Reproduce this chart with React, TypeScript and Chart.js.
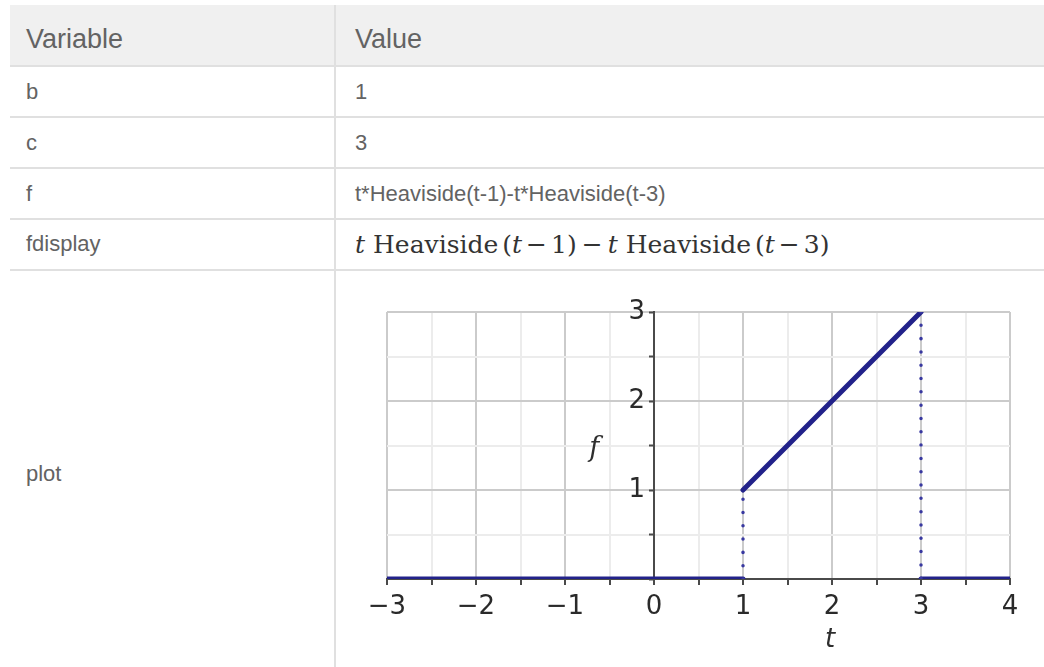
import React, { useEffect, useRef } from 'react';
import { Chart, registerables } from 'chart.js';

Chart.register(...registerables);

// Table contents
const VARIABLES = ['b', 'c', 'f', 'fdisplay', 'plot'];
const VALUES = ['1', '3', 't*Heaviside(t-1)-t*Heaviside(t-3)'];

// Breakpoints of f(t) = t·Heaviside(t−1) − t·Heaviside(t−3) over the plotted range;
// a repeated t marks a jump discontinuity.
const T_POINTS = [-3, 1, 1, 3, 3, 4];
const F_POINTS = [0, 0, 1, 3, 0, 0];

// Axis ranges and tick spacing
const T_RANGE = [-3, 4];
const F_RANGE = [0, 3];
const TICK_STEP = 0.5;

const LINE_COLOR = '#22228a';
const JUMP_COLOR = '#3838a0';
const MAJOR_GRID = '#cbcbcb';
const MINOR_GRID = '#ececec';
const AXIS_COLOR = '#4a4a4a';
const TICK_FONT = { family: '"DejaVu Sans", sans-serif', size: 26 };

const fmt = (v: number) => (v < 0 ? '\u2212' + Math.abs(v) : String(v));
const gridColor = (ctx: any) => (Number.isInteger(ctx.tick.value) ? MAJOR_GRID : MINOR_GRID);

type Pt = { x: number; y: number | null };

// Continuous pieces: break the line wherever t repeats
function pieces(): Pt[] {
  const out: Pt[] = [];
  T_POINTS.forEach((t, i) => {
    if (i > 0 && t === T_POINTS[i - 1]) out.push({ x: t, y: null });
    out.push({ x: t, y: F_POINTS[i] });
  });
  return out;
}

// Vertical connectors at each jump
function jumps(): Pt[] {
  const out: Pt[] = [];
  T_POINTS.forEach((t, i) => {
    if (i > 0 && t === T_POINTS[i - 1]) {
      if (out.length) out.push({ x: t, y: null });
      out.push({ x: t, y: F_POINTS[i - 1] }, { x: t, y: F_POINTS[i] });
    }
  });
  return out;
}

// Italic axis names, placed next to the axes
const axisNames = {
  id: 'axisNames',
  afterDraw(chart: any) {
    const { ctx, scales, chartArea } = chart;
    ctx.save();
    ctx.fillStyle = '#2e2e2e';
    ctx.textAlign = 'center';
    ctx.textBaseline = 'middle';
    ctx.font = 'italic 27px "DejaVu Serif", serif';
    ctx.fillText('f', scales.x.getPixelForValue(-0.67), scales.y.getPixelForValue(1.46));
    ctx.font = 'oblique 26px "DejaVu Sans", sans-serif';
    ctx.fillText('t', scales.x.getPixelForValue(1.98), chartArea.bottom + 61);
    ctx.restore();
  },
};

function PlotChart() {
  const ref = useRef<HTMLCanvasElement | null>(null);
  useEffect(() => {
    if (!ref.current) return;
    const chart = new Chart(ref.current, {
      type: 'line',
      data: {
        datasets: [
          {
            data: jumps(),
            borderColor: JUMP_COLOR,
            borderWidth: 3.5,
            borderDash: [0.01, 13.3],
            borderCapStyle: 'round',
            pointRadius: 0,
            spanGaps: false,
          },
          {
            data: pieces(),
            borderColor: LINE_COLOR,
            borderWidth: 5,
            borderCapStyle: 'round',
            pointRadius: 0,
            tension: 0,
            spanGaps: false,
          },
        ],
      },
      options: {
        animation: false,
        responsive: false,
        maintainAspectRatio: false,
        layout: { padding: { left: 47, right: 30, top: 32, bottom: 81 } },
        plugins: { legend: { display: false }, tooltip: { enabled: false } },
        events: [],
        scales: {
          x: {
            type: 'linear',
            min: T_RANGE[0],
            max: T_RANGE[1],
            position: { y: 0 },
            ticks: {
              stepSize: TICK_STEP,
              autoSkip: false,
              maxRotation: 0,
              padding: 8,
              color: '#2a2a2a',
              font: TICK_FONT,
              callback: (v: any) => (Number.isInteger(v) ? fmt(v) : ''),
            },
            grid: {
              color: gridColor,
              lineWidth: 2,
              drawTicks: true,
              tickLength: 5,
              tickColor: AXIS_COLOR,
              tickWidth: 2,
            },
            border: { display: true, color: AXIS_COLOR, width: 2 },
          },
          y: {
            type: 'linear',
            min: F_RANGE[0],
            max: F_RANGE[1],
            position: { x: -0.1 },
            ticks: {
              stepSize: TICK_STEP,
              autoSkip: false,
              color: '#2a2a2a',
              font: TICK_FONT,
              callback: (v: any) => (Number.isInteger(v) && v !== 0 ? String(v) : ''),
            },
            grid: { color: gridColor, lineWidth: 2, drawTicks: false },
            border: { display: false },
          },
          yAxis: {
            axis: 'y',
            type: 'linear',
            min: F_RANGE[0],
            max: F_RANGE[1],
            position: { x: 0 },
            ticks: { stepSize: TICK_STEP, display: false },
            grid: {
              drawOnChartArea: false,
              drawTicks: true,
              tickLength: 4,
              tickColor: AXIS_COLOR,
              tickWidth: 2,
            },
            border: { display: true, color: AXIS_COLOR, width: 2 },
          },
        },
      } as any,
      plugins: [axisNames],
    });
    return () => chart.destroy();
  }, []);
  return <canvas ref={ref} width={700} height={380} style={{ width: 700, height: 380, display: 'block' }} />;
}

const TEXT = '#636363';
const SANS = '"Liberation Sans", Arial, sans-serif';
const BORDER = '#e0e0e0';

function Line({ top }: { top: number }) {
  return <div style={{ position: 'absolute', left: 10, right: 0, top, height: 2, background: BORDER }} />;
}

function Cell({ x, top, size, children }: { x: number; top: number; size: number; children: React.ReactNode }) {
  return (
    <div
      style={{
        position: 'absolute',
        left: x,
        top,
        fontFamily: SANS,
        fontSize: size,
        lineHeight: `${size}px`,
        color: TEXT,
        whiteSpace: 'nowrap',
      }}
    >
      {children}
    </div>
  );
}

// Typeset pieces of the displayed formula, each with the gap that follows it
const MATH_PIECES: [string, boolean, number][] = [
  ['t', true, 8],
  ['Heaviside', false, 4],
  ['(', false, 0],
  ['t', true, 4],
  ['\u2212', false, 4],
  ['1', false, 0],
  [')', false, 5],
  ['\u2212', false, 5],
  ['t', true, 8],
  ['Heaviside', false, 4],
  ['(', false, 0],
  ['t', true, 4],
  ['\u2212', false, 4],
  ['3', false, 0],
  [')', false, 0],
];

export default function App() {
  const rowTops = [81.4, 131.5, 183.4, 233.4, 463];
  return (
    <div style={{ position: 'absolute', left: 0, top: 0, width: 1044, height: 667, overflow: 'hidden', background: '#fff' }}>
      <div style={{ position: 'absolute', left: 10, right: 0, top: 5, height: 60, background: '#f0f0f0' }} />
      <Line top={65} />
      <Line top={116} />
      <Line top={167} />
      <Line top={218} />
      <Line top={269} />
      <div style={{ position: 'absolute', left: 334, top: 5, width: 2, height: 662, background: BORDER }} />
      <Cell x={26} top={26} size={27}>Variable</Cell>
      <Cell x={355} top={26} size={27}>Value</Cell>
      {VARIABLES.map((v, i) => (
        <Cell key={v} x={26} top={rowTops[i]} size={22}>
          {v}
        </Cell>
      ))}
      {VALUES.map((v, i) => (
        <Cell key={i} x={355} top={rowTops[i]} size={22}>
          {v}
        </Cell>
      ))}
      <div
        style={{
          position: 'absolute',
          left: 355,
          top: 231.8,
          fontFamily: '"DejaVu Serif", serif',
          fontSize: 25,
          lineHeight: '25px',
          color: '#333',
          whiteSpace: 'nowrap',
        }}
      >
        {MATH_PIECES.map(([s, italic, gap], i) => (
          <span key={i} style={{ fontStyle: italic ? 'italic' : 'normal', marginRight: gap }}>
            {s}
          </span>
        ))}
      </div>
      <div style={{ position: 'absolute', left: 340, top: 280 }}>
        <PlotChart />
      </div>
    </div>
  );
}
